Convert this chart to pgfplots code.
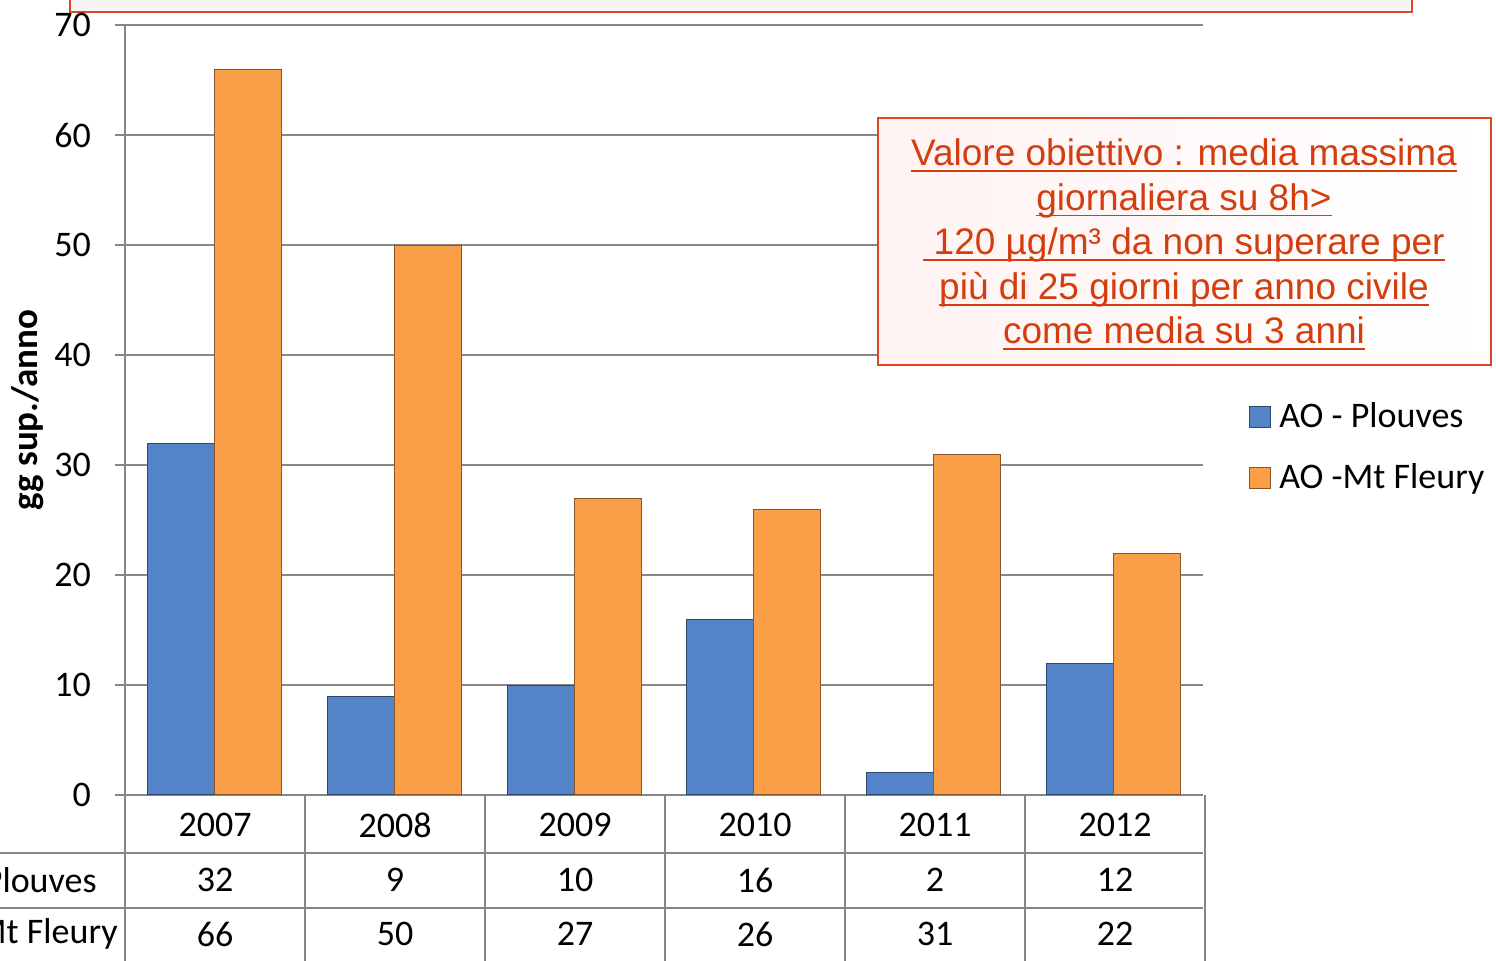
\documentclass[border=0pt]{standalone}
\usepackage{pgfplots}
\pgfplotsset{compat=1.18}
\usepackage{fontspec}
\setmainfont{Carlito}
\newfontfamily\arialfont{Liberation Sans}

\definecolor{barblue}{RGB}{84,132,199}
\definecolor{barorange}{RGB}{250,158,72}
\definecolor{gridgray}{RGB}{134,134,134}
\definecolor{notered}{RGB}{212,62,14}
\definecolor{boxred}{RGB}{218,72,36}

% underline at a fixed depth, like the office-style one
\newcommand{\ul}[1]{\setbox0\hbox{#1}\rlap{\rule[-3.2pt]{\wd0}{0.9pt}}\box0}
\newcommand{\chartfont}{\fontsize{18}{21}\selectfont}
\pgfplotsset{sqlegend/.style={legend image code/.code={\draw[##1] (0pt,-5.25pt) rectangle (10.5pt,5.25pt); \path (12.5pt,0pt);}}}

\begin{document}
\begin{tikzpicture}
\useasboundingbox (0,0) rectangle (748pt,480pt);
\clip (0,0) rectangle (748pt,480pt);

% box cut off at the top
\draw[boxred, line width=0.9pt, fill=black!4] (35pt,474pt) rectangle (706pt,500pt);

\begin{axis}[
  at={(62.5pt,82.5pt)}, anchor=south west,
  scale only axis, width=539pt, height=385pt,
  xmin=-0.5, xmax=5.5, ymin=0, ymax=70,
  xtick=\empty,
  ytick={0,10,...,70},
  axis x line*=bottom, axis y line*=left,
  axis line style={gridgray, line width=1pt},
  ymajorgrids, grid style={gridgray, line width=0.75pt},
  tick style={gridgray, line width=0.75pt},
  tick align=outside, major tick length=5pt,
  yticklabel style={font=\chartfont, xshift=-8.5pt, /pgf/number format/assume math mode=true},
  legend style={at={(rel axis cs:1.037,0.5206)}, anchor=north west,
    draw=none, fill=none, font=\chartfont, row sep=12.5pt},
  legend cell align=left,
]
\addplot[ybar, sqlegend, bar width=0.372, bar shift=-0.186, fill=barblue, draw=barblue!55!black, line width=0.5pt]
  coordinates {(0,32) (1,9) (2,10) (3,16) (4,2) (5,12)};
\addlegendentry{AO - Plouves}
\addplot[ybar, sqlegend, bar width=0.372, bar shift=0.186, fill=barorange, draw=barorange!55!black, line width=0.5pt]
  coordinates {(0,66) (1,50) (2,27) (3,26) (4,31) (5,22)};
\addlegendentry{AO -Mt Fleury}
\end{axis}

% y label
\node[rotate=90, font=\fontsize{18.5}{20}\selectfont\bfseries] at (14pt,275pt) {gg sup./anno};

% data table
\foreach \k in {0,...,6}
  \draw[gridgray, line width=1pt] (62.5pt+\k*90pt,82.5pt) -- (62.5pt+\k*90pt,-5pt);
\draw[gridgray, line width=1pt] (0pt,53.5pt) -- (601.5pt,53.5pt);
\draw[gridgray, line width=1pt] (0pt,26pt) -- (601.5pt,26pt);
\foreach \yr [count=\i from 0] in {2007,2008,2009,2010,2011,2012}
  \node[font=\chartfont] at (107.5pt+\i*90pt,67.5pt) {\yr};
\foreach \v [count=\i from 0] in {32,9,10,16,2,12}
  \node[font=\chartfont] at (107.5pt+\i*90pt,40pt) {\v};
\foreach \v [count=\i from 0] in {66,50,27,26,31,22}
  \node[font=\chartfont] at (107.5pt+\i*90pt,13pt) {\v};
\node[font=\chartfont, anchor=east, inner sep=0pt] at (48.5pt,40pt) {AO - Plouves};
\node[font=\chartfont, anchor=east, inner sep=0pt] at (59pt,13pt) {AO -Mt Fleury};

% objective note
\draw[boxred, line width=1pt, left color=red!5!white, right color=white] (439pt,297.5pt) rectangle (745.5pt,421pt);
\node[align=center, text=notered, font=\arialfont\fontsize{18.5}{22.3}\selectfont] at (592pt,357.8pt)
  {\ul{Valore obiettivo : media massima}\\
   \ul{giornaliera su 8h>}\\
   \ul{\ 120 µg/m³ da non superare per}\\
   \ul{più di 25 giorni per anno civile}\\
   \ul{come media su 3 anni}};
\end{tikzpicture}
\end{document}
